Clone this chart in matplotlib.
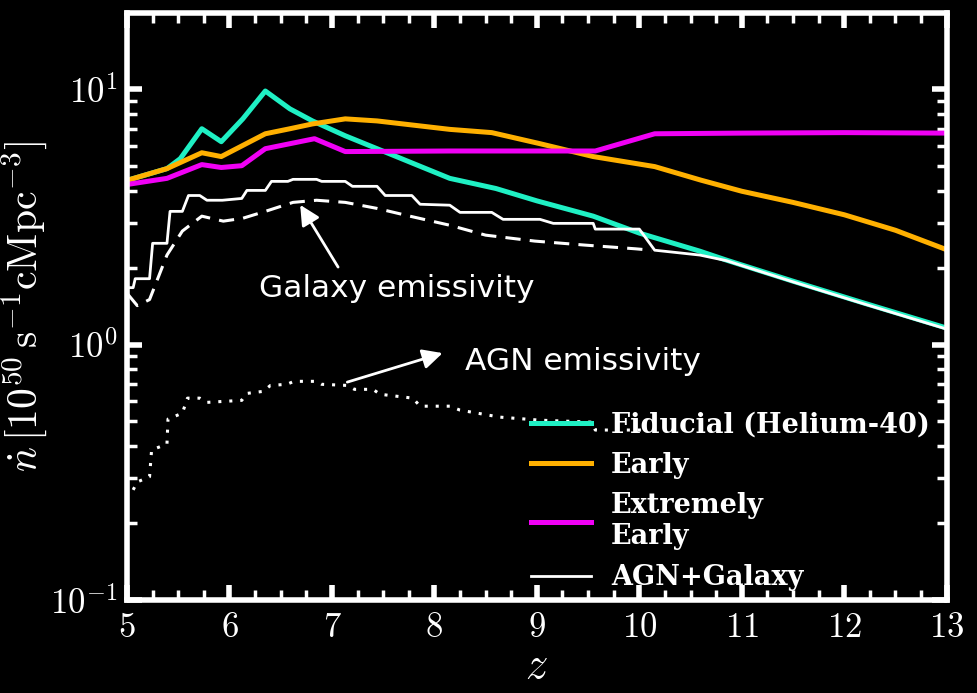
import math

import matplotlib
import matplotlib.pyplot as plt
from matplotlib.ticker import FixedLocator, FuncFormatter, LogLocator

matplotlib.use("Agg")

plt.rcParams["mathtext.fontset"] = "cm"
plt.rcParams["font.family"] = "DejaVu Sans"

# ionising emissivity histories (10^50 s^-1 cMpc^-3)
z_fid = [5.0, 5.39, 5.52, 5.73, 5.92, 6.13, 6.35, 6.59, 6.81, 7.13, 7.44, 8.15,
         8.6, 9.0, 9.55, 10.0, 10.59, 10.85, 11.5, 12.2, 13.0]
n_fid = [4.39, 4.88, 5.34, 6.99, 6.22, 7.64, 9.82, 8.36, 7.5, 6.56, 5.84, 4.47,
         4.08, 3.65, 3.18, 2.73, 2.32, 2.14, 1.77, 1.45, 1.16]

z_early = [5.0, 5.39, 5.73, 5.92, 6.35, 6.59, 6.81, 7.13, 7.44, 8.15, 8.56,
           9.03, 9.55, 10.15, 10.6, 11.0, 11.5, 12.0, 12.5, 13.0]
n_early = [4.39, 4.88, 5.63, 5.44, 6.68, 6.99, 7.3, 7.64, 7.5, 6.95, 6.75,
           6.11, 5.44, 4.97, 4.4, 3.98, 3.6, 3.22, 2.8, 2.35]

z_xearly = [5.0, 5.39, 5.73, 5.92, 6.12, 6.35, 6.83, 7.13, 8.15, 9.57, 10.15,
            11.0, 12.0, 13.0]
n_xearly = [4.23, 4.47, 5.06, 4.93, 5.01, 5.84, 6.39, 5.69, 5.72, 5.72, 6.68,
            6.72, 6.75, 6.72]

z_total = [5.01, 5.06, 5.08, 5.22, 5.25, 5.39, 5.42, 5.54, 5.60, 5.71, 5.78,
           5.93, 6.12, 6.17, 6.35, 6.41, 6.57, 6.62, 6.85, 6.90, 7.13, 7.20,
           7.44, 7.52, 7.78, 7.86, 8.15, 8.25, 8.56, 8.67, 9.03, 9.16, 9.55,
           9.57, 10.0, 10.15, 10.59, 10.85, 11.5, 12.2, 13.0]
n_total = [1.67, 1.67, 1.81, 1.81, 2.49, 2.49, 3.32, 3.32, 3.83, 3.83, 3.67,
           3.67, 3.73, 4.01, 4.01, 4.35, 4.35, 4.43, 4.43, 4.35, 4.35, 4.16,
           4.16, 3.83, 3.83, 3.54, 3.51, 3.29, 3.29, 3.09, 3.09, 2.98, 2.98,
           2.83, 2.83, 2.34, 2.24, 2.13, 1.76, 1.44, 1.15]

z_gal = [5.01, 5.1, 5.22, 5.39, 5.54, 5.73, 5.94, 6.13, 6.38, 6.62, 6.85, 7.13,
         7.44, 7.76, 8.15, 8.5, 8.98, 9.47, 9.96, 10.12]
n_gal = [1.57, 1.42, 1.50, 2.24, 2.78, 3.18, 3.04, 3.12, 3.35, 3.60, 3.67,
         3.60, 3.41, 3.18, 2.93, 2.68, 2.54, 2.45, 2.37, 2.34]

z_agn = [5.06, 5.1, 5.22, 5.24, 5.39, 5.40, 5.54, 5.59, 5.71, 5.78, 6.12, 6.17,
         6.33, 6.40, 6.56, 6.63, 6.85, 6.90, 7.15, 7.22, 7.40, 7.47, 7.79,
         7.86, 8.15, 8.25, 8.64, 9.03, 9.54, 9.57, 10.05]
n_agn = [0.270, 0.290, 0.304, 0.387, 0.408, 0.511, 0.539, 0.617, 0.617, 0.594,
         0.605, 0.644, 0.656, 0.692, 0.699, 0.718, 0.718, 0.699, 0.692, 0.668,
         0.668, 0.639, 0.617, 0.574, 0.574, 0.554, 0.52, 0.506, 0.497, 0.463,
         0.463]

fig = plt.figure(figsize=(9.77, 6.93), dpi=100, facecolor="black")
ax = fig.add_axes([0.130, 0.134, 0.839, 0.847], facecolor="black")

ax.plot(z_fid, n_fid, color="#1ff0c4", lw=3.6, label="Fiducial (Helium-40)")
ax.plot(z_early, n_early, color="#ffb000", lw=3.6, label="Early")
ax.plot(z_xearly, n_xearly, color="#f000f5", lw=3.6, label="Extremely\nEarly")
ax.plot(z_total, n_total, color="white", lw=2.0, label="AGN+Galaxy")
ax.plot(z_gal, n_gal, color="white", lw=2.2, ls=(0, (5, 3)))
ax.plot(z_agn, n_agn, color="white", lw=2.2, ls=(0, (1, 2.6)))

arrow = dict(arrowstyle="-|>", color="white", lw=2, mutation_scale=30,
             shrinkA=0, shrinkB=0)
ax.annotate("", xy=(6.69, 3.52), xytext=(7.06, 2.01), arrowprops=arrow)
ax.annotate("", xy=(8.08, 0.926), xytext=(7.15, 0.713), arrowprops=arrow)
ax.text(7.63, 1.66, "Galaxy emissivity", color="white", fontsize=22.5,
        ha="center", va="center")
ax.text(9.45, 0.855, "AGN emissivity", color="white", fontsize=22.5,
        ha="center", va="center")

ax.set_yscale("log")
ax.set_xlim(5, 13)
ax.set_ylim(0.1, 19.8)

ax.xaxis.set_major_locator(FixedLocator(range(5, 14)))
ax.xaxis.set_minor_locator(FixedLocator([5 + 0.25 * i for i in range(33)]))
ax.xaxis.set_major_formatter(FuncFormatter(lambda v, p: f"${int(v)}$"))
ax.yaxis.set_major_locator(LogLocator(base=10))
ax.yaxis.set_minor_locator(LogLocator(base=10, subs=range(2, 10)))
ax.yaxis.set_major_formatter(
    FuncFormatter(lambda v, p: r"$10^{%d}$" % round(math.log10(v))))

ax.tick_params(which="both", direction="in", top=True, right=True,
               colors="white", labelsize=25, pad=7)
ax.tick_params(which="major", length=11, width=4)
ax.tick_params(which="minor", length=7, width=2.5)
for s in ax.spines.values():
    s.set_color("white")
    s.set_linewidth(4)

ax.set_xlabel("$z$", color="white", fontsize=32, labelpad=0)
ax.set_ylabel(r"$\dot{n}\,[10^{50}\,\mathrm{s^{-1}cMpc^{-3}}]$",
              color="white", fontsize=30, labelpad=0)

leg = ax.legend(loc="lower right", bbox_to_anchor=(1.009, -0.026), frameon=False,
                prop={"family": "DejaVu Serif", "weight": "bold", "size": 19.5},
                handlelength=2.2, labelspacing=0.5, handletextpad=0.75)
for t in leg.get_texts():
    t.set_color("white")

fig.savefig("out.png", dpi=100, facecolor="black")
